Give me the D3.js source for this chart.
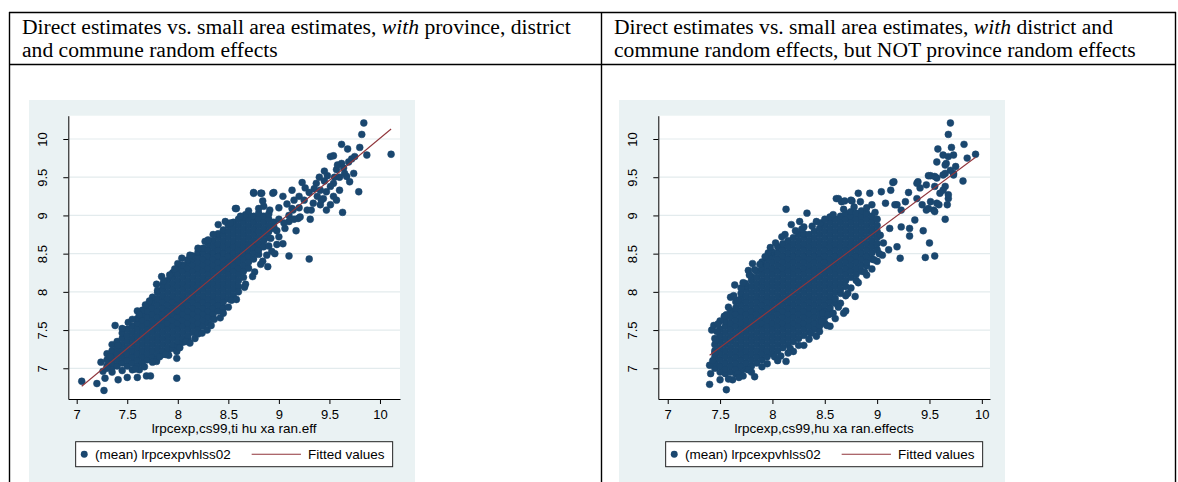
<!DOCTYPE html>
<html>
<head>
<meta charset="utf-8">
<script src="https://cdn.jsdelivr.net/npm/d3@7"></script>
<style>
  body { margin: 0; background: #fff; }
  svg { display: block; }
  text { white-space: pre; }
</style>
</head>
<body>
<svg id="chart" width="1178" height="482"></svg>
<script>
// ---------- headings (odd-indexed segments are italic) ----------
const headingLeft = [
  ["Direct estimates vs. small area estimates, ", "with", " province, district"],
  ["and commune random effects"]
];
const headingRight = [
  ["Direct estimates vs. small area estimates, ", "with", " district and"],
  ["commune random effects, but NOT province random effects"]
];

// ---------- axis ticks and labels ----------
const xTicks = [7, 7.5, 8, 8.5, 9, 9.5, 10];
const yTicks = [7, 7.5, 8, 8.5, 9, 9.5, 10];
const xTitleLeft = "lrpcexp,cs99,ti hu xa ran.eff";
const xTitleRight = "lrpcexp,cs99,hu xa ran.effects";
const legendLabels = ["(mean) lrpcexpvhlss02", "Fitted values"];

// ---------- panel A: province, district and commune random effects ----------
// dense centre of the cloud, stored by column: [x, [y values]]
const coreA = [
  [7.30,[7.03,7.11,7.19]],
  [7.35,[7.01,7.07,7.15,7.23,7.31]],
  [7.40,[7.03,7.11,7.19,7.27,7.35]],
  [7.45,[7.07,7.15,7.23,7.31,7.39,7.46]],
  [7.50,[7.03,7.11,7.19,7.27,7.35,7.43,7.51]],
  [7.55,[7.07,7.15,7.23,7.31,7.39,7.47,7.55]],
  [7.60,[7.03,7.11,7.19,7.27,7.35,7.43,7.51,7.59,7.65]],
  [7.65,[7.07,7.15,7.23,7.31,7.39,7.47,7.55,7.63,7.71,7.76]],
  [7.70,[7.11,7.19,7.27,7.35,7.43,7.51,7.59,7.67,7.75,7.83]],
  [7.75,[7.15,7.23,7.31,7.39,7.47,7.55,7.63,7.71,7.79,7.87,7.93]],
  [7.80,[7.14,7.19,7.27,7.35,7.43,7.51,7.59,7.67,7.75,7.83,7.91,7.99,8.02]],
  [7.85,[7.18,7.23,7.31,7.39,7.47,7.55,7.63,7.71,7.79,7.87,7.95,8.03,8.09]],
  [7.90,[7.22,7.27,7.35,7.43,7.51,7.59,7.67,7.75,7.83,7.91,7.99,8.07,8.15]],
  [7.95,[7.26,7.31,7.39,7.47,7.55,7.63,7.71,7.79,7.87,7.95,8.03,8.11,8.19,8.25]],
  [8.00,[7.30,7.35,7.43,7.51,7.59,7.67,7.75,7.83,7.91,7.99,8.07,8.15,8.23,8.31]],
  [8.05,[7.34,7.39,7.47,7.55,7.63,7.71,7.79,7.87,7.95,8.03,8.11,8.19,8.27,8.35]],
  [8.10,[7.38,7.43,7.51,7.59,7.67,7.75,7.83,7.91,7.99,8.07,8.15,8.23,8.31,8.39,8.42]],
  [8.15,[7.47,7.55,7.63,7.71,7.79,7.87,7.95,8.03,8.11,8.19,8.27,8.35,8.43,8.47]],
  [8.20,[7.51,7.59,7.67,7.75,7.83,7.91,7.99,8.07,8.15,8.23,8.31,8.39,8.47,8.52]],
  [8.25,[7.55,7.63,7.71,7.79,7.87,7.95,8.03,8.11,8.19,8.27,8.35,8.43,8.51,8.57]],
  [8.30,[7.59,7.67,7.75,7.83,7.91,7.99,8.07,8.15,8.23,8.31,8.39,8.47,8.55,8.63]],
  [8.35,[7.65,7.71,7.79,7.87,7.95,8.03,8.11,8.19,8.27,8.35,8.43,8.51,8.59,8.67]],
  [8.40,[7.75,7.83,7.91,7.99,8.07,8.15,8.23,8.31,8.39,8.47,8.55,8.63,8.71,8.76]],
  [8.45,[7.79,7.87,7.95,8.03,8.11,8.19,8.27,8.35,8.43,8.51,8.59,8.67,8.75,8.81]],
  [8.50,[7.91,7.99,8.07,8.15,8.23,8.31,8.39,8.47,8.55,8.63,8.71,8.79,8.87]],
  [8.55,[7.95,8.03,8.11,8.19,8.27,8.35,8.43,8.51,8.59,8.67,8.75,8.83,8.91]],
  [8.60,[8.07,8.15,8.23,8.31,8.39,8.47,8.55,8.63,8.71,8.79,8.87,8.95]],
  [8.65,[8.19,8.27,8.35,8.43,8.51,8.59,8.67,8.75,8.83,8.91,8.98]],
  [8.70,[8.31,8.39,8.47,8.55,8.63,8.71,8.79,8.87,8.95,9.01]],
  [8.75,[8.43,8.51,8.59,8.67,8.75,8.83,8.91,8.99]],
  [8.80,[8.49,8.55,8.63,8.71,8.79,8.87,8.95,9.03]],
  [8.85,[8.59,8.67,8.75,8.83,8.91,8.99]],
  [8.90,[8.71,8.79,8.87,8.95,9.02]],
  [8.95,[8.83,8.91]]
];
// scattered communes around the centre: [x, y]
const spreadA = [
  [7.05,6.83],[7.20,6.80],[7.27,6.71],[7.24,7.08],[7.28,6.87],[7.26,6.96],[7.41,6.85],
  [7.50,6.88],[7.60,6.88],[7.69,6.90],[7.73,6.90],[7.99,6.87],[7.38,7.56],[7.51,7.60],
  [7.60,7.75],[7.68,7.83],[7.79,8.10],[7.84,8.20],[7.92,8.22],[8.00,8.37],[8.04,8.44],
  [8.20,8.57],[8.27,8.66],[8.40,8.88],[8.47,8.92],[8.57,9.09],[8.67,9.01],[8.75,9.29],
  [8.82,9.29],[8.94,9.29],[8.84,9.19],[7.41,7.30],[7.33,7.15],[7.30,7.00],[7.35,6.95],
  [7.45,6.97],[7.55,6.98],[7.62,6.98],[7.67,7.02],[7.79,7.09],[7.82,7.15],[7.91,7.17],
  [7.99,7.13],[7.99,7.22],[8.08,7.35],[8.17,7.39],[8.20,7.45],[8.29,7.50],[8.36,7.64],
  [8.42,7.66],[8.50,7.80],[8.53,7.89],[8.60,8.00],[8.67,8.10],[8.76,8.26],[8.84,8.40],
  [8.89,8.33],[8.93,8.53],[9.04,8.63],[9.10,8.47],[9.30,8.43],[9.00,8.72],[9.06,8.83],
  [9.17,8.80],[9.10,8.92],[9.19,8.96],[9.13,9.09],[9.31,8.95],[8.92,8.70],[8.98,8.80],
  [8.90,8.60],[8.96,8.50],
  [7.45,7.52],[7.55,7.64],[7.62,7.70],[7.72,7.88],[7.86,8.14],[7.97,8.30],[8.12,8.48],
  [8.30,8.68],[8.35,8.75],[8.52,8.90],[8.62,8.99],[8.70,9.06],[8.80,9.09],
  [7.58,6.99],[7.75,7.08],[7.88,7.18],[8.02,7.27],[8.12,7.33],[8.24,7.46],[8.33,7.56],
  [8.45,7.72],[8.58,7.90],[8.66,8.06],[8.74,8.20],[8.82,8.36],[8.88,8.48],[8.98,8.62],
  [9.84,10.21],[9.82,10.06],[10.11,9.80],[9.62,9.93],[9.68,9.87],[9.80,9.89],[9.87,9.79],
  [9.51,9.77],[9.54,9.78],[9.69,9.70],[9.72,9.74],[9.75,9.77],[9.57,9.60],[9.64,9.62],
  [9.74,9.55],[9.67,9.51],[9.79,9.31],[9.63,9.04],[9.70,9.44],[9.60,9.33],[9.54,9.42],
  [9.51,9.38],[9.47,9.31],[9.54,9.25],[9.57,9.20],[9.51,9.14],[9.47,9.07],[9.37,9.42],
  [9.41,9.33],[9.44,9.22],[9.23,9.43],[9.26,9.36],[9.13,9.33],[9.04,9.25],[8.95,9.30],
  [8.83,9.29],[8.75,9.30],[8.91,9.07],[8.85,9.12],[8.58,9.09],[9.14,9.07],[9.21,8.98],
  [9.28,9.07],[9.34,9.16],[9.41,9.14],[9.42,9.20],[9.32,9.07],
  [9.00,9.10],[9.08,9.15],[9.15,9.20],[9.20,9.25],[9.30,9.30],[9.35,9.35],[9.45,9.45],
  [9.40,9.50],[9.48,9.52],[9.55,9.50],[9.60,9.50],[9.65,9.55],[9.62,9.68],[9.58,9.66],
  [9.45,9.58],[9.38,9.25],[9.25,9.20],[9.20,9.10],[9.10,9.00],[9.00,8.95],[8.95,8.85],
  [9.05,8.90],[9.15,8.95]
];
const fitA = [-0.99, 1.10];   // intercept, slope of the fitted line

// ---------- panel B: district and commune random effects only ----------
const coreB = [
  [7.45,[7.00,7.07,7.15,7.23,7.31,7.39]],
  [7.50,[6.95,7.03,7.11,7.19,7.27,7.35,7.43,7.51]],
  [7.55,[6.93,6.99,7.07,7.15,7.23,7.31,7.39,7.47,7.55,7.62]],
  [7.60,[6.95,7.03,7.11,7.19,7.27,7.35,7.43,7.51,7.59,7.67,7.75]],
  [7.65,[6.93,6.99,7.07,7.15,7.23,7.31,7.39,7.47,7.55,7.63,7.71,7.79,7.87]],
  [7.70,[6.95,7.03,7.11,7.19,7.27,7.35,7.43,7.51,7.59,7.67,7.75,7.83,7.91,7.98]],
  [7.75,[6.99,7.07,7.15,7.23,7.31,7.39,7.47,7.55,7.63,7.71,7.79,7.87,7.95,8.03,8.08]],
  [7.80,[7.03,7.11,7.19,7.27,7.35,7.43,7.51,7.59,7.67,7.75,7.83,7.91,7.99,8.07,8.15,8.20]],
  [7.85,[7.07,7.15,7.23,7.31,7.39,7.47,7.55,7.63,7.71,7.79,7.87,7.95,8.03,8.11,8.19,8.27]],
  [7.90,[7.11,7.19,7.27,7.35,7.43,7.51,7.59,7.67,7.75,7.83,7.91,7.99,8.07,8.15,8.23,8.31,8.39]],
  [7.95,[7.15,7.23,7.31,7.39,7.47,7.55,7.63,7.71,7.79,7.87,7.95,8.03,8.11,8.19,8.27,8.35,8.43]],
  [8.00,[7.19,7.27,7.35,7.43,7.51,7.59,7.67,7.75,7.83,7.91,7.99,8.07,8.15,8.23,8.31,8.39,8.47,8.52]],
  [8.05,[7.23,7.31,7.39,7.47,7.55,7.63,7.71,7.79,7.87,7.95,8.03,8.11,8.19,8.27,8.35,8.43,8.51,8.59]],
  [8.10,[7.27,7.35,7.43,7.51,7.59,7.67,7.75,7.83,7.91,7.99,8.07,8.15,8.23,8.31,8.39,8.47,8.55,8.63]],
  [8.15,[7.31,7.39,7.47,7.55,7.63,7.71,7.79,7.87,7.95,8.03,8.11,8.19,8.27,8.35,8.43,8.51,8.59,8.67]],
  [8.20,[7.35,7.43,7.51,7.59,7.67,7.75,7.83,7.91,7.99,8.07,8.15,8.23,8.31,8.39,8.47,8.55,8.63,8.71]],
  [8.25,[7.39,7.47,7.55,7.63,7.71,7.79,7.87,7.95,8.03,8.11,8.19,8.27,8.35,8.43,8.51,8.59,8.67,8.75]],
  [8.30,[7.43,7.51,7.59,7.67,7.75,7.83,7.91,7.99,8.07,8.15,8.23,8.31,8.39,8.47,8.55,8.63,8.71,8.76]],
  [8.35,[7.47,7.55,7.63,7.71,7.79,7.87,7.95,8.03,8.11,8.19,8.27,8.35,8.43,8.51,8.59,8.67,8.75]],
  [8.40,[7.51,7.59,7.67,7.75,7.83,7.91,7.99,8.07,8.15,8.23,8.31,8.39,8.47,8.55,8.63,8.71,8.79]],
  [8.45,[7.55,7.63,7.71,7.79,7.87,7.95,8.03,8.11,8.19,8.27,8.35,8.43,8.51,8.59,8.67,8.75,8.83]],
  [8.50,[7.59,7.67,7.75,7.83,7.91,7.99,8.07,8.15,8.23,8.31,8.39,8.47,8.55,8.63,8.71,8.79,8.87]],
  [8.55,[7.71,7.79,7.87,7.95,8.03,8.11,8.19,8.27,8.35,8.43,8.51,8.59,8.67,8.75,8.83,8.91]],
  [8.60,[7.85,7.91,7.99,8.07,8.15,8.23,8.31,8.39,8.47,8.55,8.63,8.71,8.79,8.87,8.95]],
  [8.65,[7.98,8.03,8.11,8.19,8.27,8.35,8.43,8.51,8.59,8.67,8.75,8.83,8.91,8.99]],
  [8.70,[8.07,8.15,8.23,8.31,8.39,8.47,8.55,8.63,8.71,8.79,8.87,8.95,9.03]],
  [8.75,[8.19,8.27,8.35,8.43,8.51,8.59,8.67,8.75,8.83,8.91,8.99,9.05]],
  [8.80,[8.23,8.31,8.39,8.47,8.55,8.63,8.71,8.79,8.87,8.95,9.03]],
  [8.85,[8.27,8.35,8.43,8.51,8.59,8.67,8.75,8.83,8.91,8.99,9.06]],
  [8.90,[8.34,8.39,8.47,8.55,8.63,8.71,8.79,8.87,8.95,9.03]],
  [8.95,[8.43,8.51,8.59,8.67,8.75,8.83,8.91,8.99]],
  [9.00,[8.55,8.63,8.71,8.79,8.87,8.95]]
];
const spreadB = [
  [7.40,7.04],[7.41,6.93],[7.40,6.79],[7.50,6.85],[7.56,6.72],[7.83,6.89],[7.77,6.98],
  [7.67,6.93],[8.13,7.09],[7.42,7.50],[7.46,7.37],[7.56,7.70],[7.64,8.09],[7.77,8.28],
  [7.81,8.37],[7.96,8.51],[8.37,7.46],[8.17,7.26],[8.02,7.15],[8.47,7.61],[8.48,7.72],
  [7.44,7.56],[7.54,7.68],[7.67,7.89],[7.74,8.11],[7.83,8.29],[7.93,8.46],[7.70,8.05],
  [7.60,7.93],[7.50,7.62],[7.47,7.48],[7.45,7.20],[7.43,7.10],[7.62,6.85],[7.72,6.90],
  [7.90,7.02],[8.05,7.10],[8.20,7.22],[8.30,7.30],[8.42,7.42],[8.55,7.55],[8.60,7.65],
  [8.53,7.70],[8.68,7.72],[8.70,7.75],[8.79,7.94],[8.65,7.85],[8.70,7.95],[8.75,8.05],
  [8.82,8.12],[8.90,8.22],[8.95,8.30],[9.00,8.40],[9.05,8.48],
  [7.48,7.58],[7.58,7.80],[7.63,7.95],[7.72,8.12],[7.78,8.22],[7.88,8.36],[7.98,8.58],
  [8.03,8.64],[8.12,8.75],[8.28,8.82],[8.38,8.86],[8.46,8.90],[8.55,8.98],[8.68,9.08],
  [8.78,9.11],[8.90,9.10],[8.98,9.04],
  [7.58,6.86],[7.68,6.88],[7.80,6.95],[7.95,7.06],[8.08,7.16],[8.15,7.20],[8.25,7.30],
  [8.35,7.38],[8.45,7.48],[8.52,7.56],[8.58,7.72],[8.63,7.80],[8.72,7.98],[8.80,8.15],
  [8.88,8.26],[8.97,8.42],[9.02,8.50],
  [8.13,9.08],[8.09,8.72],[8.18,8.88],[8.26,8.92],[8.33,9.03],[8.42,8.92],[8.30,8.85],
  [8.22,8.80],[8.50,8.95],[8.61,9.22],[8.66,9.18],[8.76,9.19],[8.84,9.18],[8.82,9.29],
  [8.93,9.29],[9.04,9.31],[8.95,9.14],[8.58,9.01],[8.69,9.19],[8.75,9.20],[8.63,9.22],
  [9.70,10.21],[9.68,10.06],[9.83,9.93],[9.94,9.80],[9.86,9.75],[9.71,9.89],[9.58,9.87],
  [9.63,9.79],[9.68,9.77],[9.73,9.79],[9.57,9.70],[9.66,9.68],[9.73,9.55],[9.65,9.55],
  [9.51,9.52],[9.57,9.49],[9.82,9.45],[9.65,9.38],[9.60,9.29],[9.68,9.22],[9.57,9.16],
  [9.65,8.95],[9.54,9.07],[9.47,9.07],[9.41,9.36],[9.39,9.44],[9.38,9.22],[9.47,9.40],
  [9.30,9.30],[9.27,9.18],[9.19,9.14],[9.15,9.43],[9.13,9.33],[9.08,9.16],[9.36,8.94],
  [9.23,8.85],[9.31,8.83],[9.31,8.73],[9.44,8.80],[9.50,8.64],[9.55,8.47],[9.46,8.45],
  [9.22,8.44],[9.19,8.59],[9.11,8.55],[9.12,8.83],[9.03,8.74],[9.06,8.64],[9.23,9.07],
  [9.55,9.05],[9.49,9.09],[9.43,9.14],[9.51,9.18],[9.59,9.14],[9.67,9.14],[9.68,9.27],
  [9.63,9.33],[9.55,9.38],[9.49,9.52],[9.55,9.51],[9.63,9.53],[9.70,9.59],[9.65,9.66],
  [9.73,9.53],[9.75,9.64],[9.16,9.44],[9.17,9.14],[9.38,9.42]
];
const fitB = [-0.378, 1.02];

// ---------- drawing ----------
const W = 1178, H = 482;
const NAVY = "#1a476f", MAROON = "#90353b", PANEL_BG = "#eaf2f3", GRID = "#e3ebed";
const SANS = "'Liberation Sans', Arial, Helvetica, sans-serif";
const SERIF = "'Liberation Serif', 'Times New Roman', serif";
const svg = d3.select("#chart");

// table rules
const rules = svg.append("g").attr("stroke", "#000").attr("stroke-width", 1.4);
[12.5, 64.5].forEach(yy => rules.append("line").attr("x1", 9).attr("x2", 1176).attr("y1", yy).attr("y2", yy));
[9.5, 601.5, 1175.5].forEach(xx => rules.append("line").attr("x1", xx).attr("x2", xx).attr("y1", 12).attr("y2", H));

// cell headings
function heading(lines, x0) {
  const t = svg.append("text").attr("font-family", SERIF).attr("font-size", 21.6).attr("fill", "#000");
  lines.forEach((segs, i) => {
    segs.forEach((s, j) => {
      const ts = t.append("tspan").text(s);
      if (j === 0) ts.attr("x", x0).attr("y", 34 + i * 22.5);
      if (j % 2 === 1) ts.attr("font-style", "italic");
    });
  });
}
heading(headingLeft, 22);
heading(headingRight, 614);

const flatten = core => core.flatMap(([x, ys]) => ys.map(y => [x, y]));

function drawPanel(cfg) {
  const pts = flatten(cfg.core).concat(cfg.spread);
  const g = svg.append("g");
  g.append("rect").attr("x", cfg.bgX).attr("y", 100).attr("width", 386).attr("height", 382).attr("fill", PANEL_BG);

  const x = d3.scaleLinear().domain(cfg.xDom).range([cfg.left, cfg.right]);
  const y = d3.scaleLinear().domain([6.598, 10.305]).range([399, 115.7]);

  g.append("rect").attr("x", cfg.left).attr("y", 115.7)
    .attr("width", cfg.right - cfg.left).attr("height", 399 - 115.7).attr("fill", "#fff");

  // horizontal grid
  g.append("g").selectAll("line").data(yTicks).join("line")
    .attr("x1", cfg.left).attr("x2", cfg.right)
    .attr("y1", d => y(d)).attr("y2", d => y(d))
    .attr("stroke", GRID).attr("stroke-width", 1.2);

  // markers (thin same-colour outline, as the original marker style has)
  g.append("g").selectAll("circle").data(pts).join("circle")
    .attr("cx", d => x(d[0])).attr("cy", d => y(d[1]))
    .attr("r", 3.45).attr("fill", NAVY)
    .attr("stroke", NAVY).attr("stroke-width", 0.5);

  // fitted line over the range of x
  const [x0, x1] = d3.extent(pts, d => d[0]);
  const [a, b] = cfg.fit;
  g.append("line")
    .attr("x1", x(x0)).attr("y1", y(a + b * x0))
    .attr("x2", x(x1)).attr("y2", y(a + b * x1))
    .attr("stroke", MAROON).attr("stroke-width", 1.1);

  // axes
  const yAxis = g.append("g").attr("transform", `translate(${cfg.left},0)`)
    .call(d3.axisLeft(y).tickValues(yTicks).tickSize(5).tickSizeOuter(0).tickFormat(d => String(d)));
  yAxis.selectAll("text")
    .attr("transform", "rotate(-90)").attr("x", 0).attr("y", -21.8).attr("dy", 0)
    .style("text-anchor", "middle");
  const xAxis = g.append("g").attr("transform", "translate(0,399)")
    .call(d3.axisBottom(x).tickValues(xTicks).tickSize(5).tickSizeOuter(0).tickPadding(5.5).tickFormat(d => String(d)));
  [yAxis, xAxis].forEach(ax => {
    ax.attr("font-family", SANS).attr("font-size", 13);
    ax.selectAll("text").attr("fill", "#000");
    ax.selectAll("path,line").attr("stroke", "#000");
  });

  const cx = (cfg.left + cfg.right) / 2;
  g.append("text").attr("x", cx).attr("y", 433).attr("text-anchor", "middle")
    .attr("font-family", SANS).attr("font-size", 13.5).attr("fill", "#000").text(cfg.xTitle);

  // legend
  const lx = cx - 158.5;
  const lg = g.append("g").attr("font-family", SANS).attr("font-size", 13.5);
  lg.append("rect").attr("x", lx).attr("y", 441.7).attr("width", 317).attr("height", 25)
    .attr("fill", "#fff").attr("stroke", "#222").attr("stroke-width", 1);
  lg.append("circle").attr("cx", lx + 8.6).attr("cy", 454.2).attr("r", 3.45).attr("fill", NAVY);
  lg.append("text").attr("x", lx + 19.3).attr("y", 459).attr("fill", "#000").text(legendLabels[0]);
  lg.append("line").attr("x1", lx + 176).attr("x2", lx + 225.3).attr("y1", 454.2).attr("y2", 454.2)
    .attr("stroke", MAROON).attr("stroke-width", 1.1);
  lg.append("text").attr("x", lx + 232.3).attr("y", 459).attr("fill", "#000").text(legendLabels[1]);
}

drawPanel({ core: coreA, spread: spreadA, fit: fitA, bgX: 29, left: 68.3, right: 400,
            xDom: [6.917, 10.198], xTitle: xTitleLeft });
drawPanel({ core: coreB, spread: spreadB, fit: fitB, bgX: 619, left: 658.3, right: 990,
            xDom: [6.910, 10.078], xTitle: xTitleRight });
</script>
</body>
</html>
